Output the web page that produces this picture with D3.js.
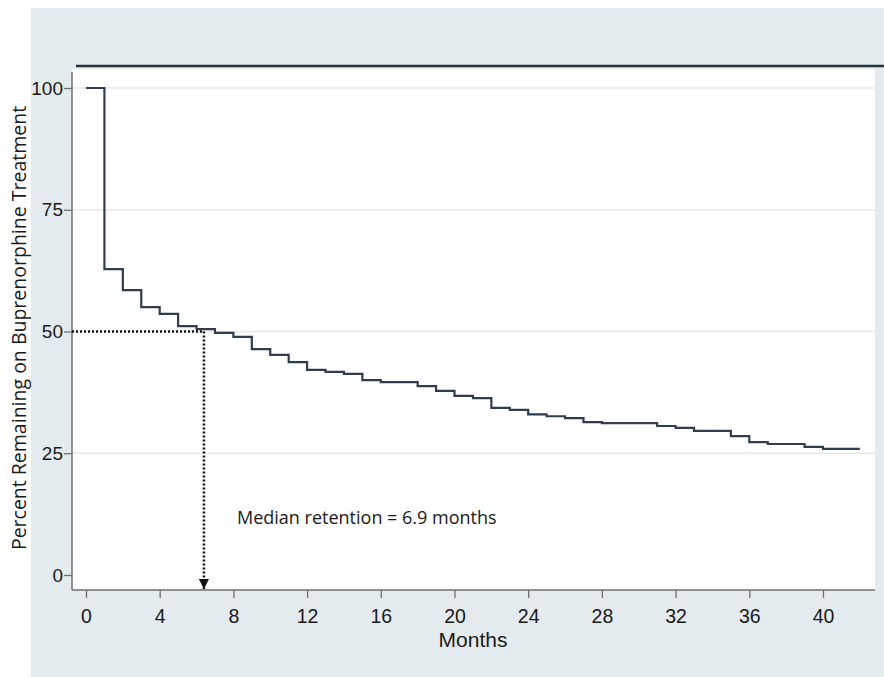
<!DOCTYPE html>
<html>
<head>
<meta charset="utf-8">
<script src="https://cdn.jsdelivr.net/npm/d3@7"></script>
<style>
  body { margin: 0; background: #fff; }
  svg { display: block; }
</style>
</head>
<body>
<svg width="884" height="677"></svg>
<script>
// Kaplan-Meier retention (step value from each month on)
const months = [0, 1, 2, 3, 4, 5, 6, 7, 8, 9, 10, 11, 12, 13, 14, 15, 16, 18, 19, 20,
  21, 22, 23, 24, 25, 26, 27, 28, 31, 32, 33, 35, 36, 37, 39, 40];
const percent = [100, 62.8, 58.5, 55.0, 53.6, 51.1, 50.5, 49.7, 48.9, 46.4, 45.2, 43.7,
  42.1, 41.7, 41.3, 40.0, 39.6, 38.8, 37.8, 36.8, 36.3, 34.3, 33.9, 33.0, 32.6, 32.2,
  31.4, 31.2, 30.6, 30.2, 29.6, 28.5, 27.3, 26.9, 26.3, 25.9];
const lastMonth = 42;
const xTicks = [0, 4, 8, 12, 16, 20, 24, 28, 32, 36, 40];
const yTicks = [0, 25, 50, 75, 100];
const gridTicks = [25, 50, 75, 100];
const medianX = 6.4, medianY = 50;
const medianLabel = "Median retention = 6.9 months";

const svg = d3.select("svg");

const plotLeft = 72, plotRight = 875, plotTop = 69, axisY = 590;

const x = d3.scaleLinear().domain([0, 40]).range([86, 823]);
const y = d3.scaleLinear().domain([0, 100]).range([575, 88]);

// background panel
svg.append("rect").attr("x", 31).attr("y", 8).attr("width", 853).attr("height", 669)
  .attr("fill", "#e4ebee");
// plot area
svg.append("rect").attr("x", plotLeft).attr("y", plotTop).attr("width", plotRight - plotLeft)
  .attr("height", axisY - plotTop).attr("fill", "#ffffff");
// dark line across the top
svg.append("line").attr("x1", 76).attr("x2", 884).attr("y1", 66).attr("y2", 66)
  .attr("stroke", "#27323f").attr("stroke-width", 2.5);

// gridlines
svg.append("g").selectAll("line").data(gridTicks).enter().append("line")
  .attr("x1", plotLeft + 1).attr("x2", plotRight)
  .attr("y1", d => y(d)).attr("y2", d => y(d))
  .attr("stroke", "#e6e8ea").attr("stroke-width", 1.5);

// axes
const fontTicks = "'Liberation Sans', Arial, sans-serif";

const gx = svg.append("g").attr("transform", "translate(0," + axisY + ")")
  .call(d3.axisBottom(x).tickValues(xTicks).tickSize(8).tickPadding(11));
gx.select(".domain").remove();
gx.append("line").attr("x1", plotLeft).attr("x2", plotRight).attr("stroke", "#6f6f6f").attr("stroke-width", 1.5);
gx.selectAll(".tick line").attr("stroke", "#6f6f6f").attr("stroke-width", 1.3);
gx.selectAll(".tick text").attr("fill", "#1a1a1a").style("font", "19.5px " + fontTicks);

const gy = svg.append("g").attr("transform", "translate(" + plotLeft + ",0)")
  .call(d3.axisLeft(y).tickValues(yTicks).tickSize(8).tickPadding(1));
gy.select(".domain").remove();
gy.append("line").attr("y1", 72).attr("y2", axisY).attr("stroke", "#6f6f6f").attr("stroke-width", 1.5);
gy.selectAll(".tick line").attr("stroke", "#6f6f6f").attr("stroke-width", 1.3);
gy.selectAll(".tick text").attr("fill", "#1a1a1a").style("font", "19px " + fontTicks);

// axis titles
svg.append("text").attr("x", 473).attr("y", 647).attr("text-anchor", "middle")
  .attr("fill", "#1a1a1a").style("font", "21px " + fontTicks).text("Months");
svg.append("text").attr("transform", "translate(26,328) rotate(-90)")
  .attr("text-anchor", "middle").attr("fill", "#1a1a1a")
  .style("font", "19.5px 'Open Sans', sans-serif")
  .text("Percent Remaining on Buprenorphine Treatment");

// survival step curve
const pts = months.map((m, i) => [m, percent[i]]);
pts.push([lastMonth, percent[percent.length - 1]]);
const line = d3.line().x(d => x(d[0])).y(d => y(d[1])).curve(d3.curveStepAfter);
svg.append("path").datum(pts).attr("d", line)
  .attr("fill", "none").attr("stroke", "#2e3d52").attr("stroke-width", 2.2);

// median markers
svg.append("defs").append("marker").attr("id", "arrow")
  .attr("viewBox", "0 0 10 10").attr("refX", 10).attr("refY", 5)
  .attr("markerWidth", 4).attr("markerHeight", 4).attr("orient", "auto")
  .append("path").attr("d", "M0,0L10,5L0,10Z").attr("fill", "#111");

svg.append("line").attr("x1", plotLeft).attr("x2", x(medianX))
  .attr("y1", y(medianY)).attr("y2", y(medianY))
  .attr("stroke", "#111").attr("stroke-width", 2.5).attr("stroke-dasharray", "2,2");
svg.append("line").attr("x1", x(medianX)).attr("x2", x(medianX))
  .attr("y1", y(medianY)).attr("y2", axisY - 1)
  .attr("stroke", "#111").attr("stroke-width", 2.5).attr("stroke-dasharray", "2,2")
  .attr("marker-end", "url(#arrow)");

svg.append("text").attr("x", 237).attr("y", 524).attr("fill", "#1a1a1a")
  .style("font", "18px 'Open Sans', sans-serif").text(medianLabel);
</script>
</body>
</html>
